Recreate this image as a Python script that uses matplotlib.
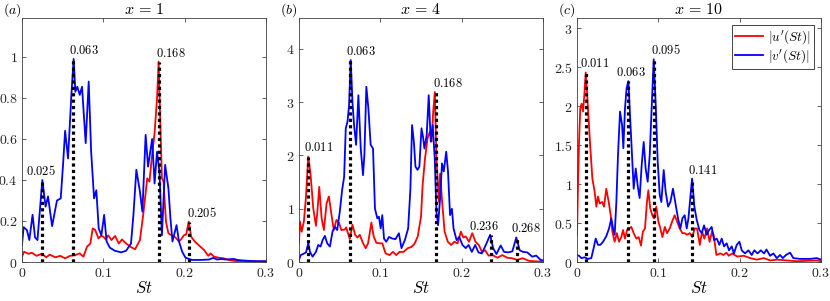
import numpy as np
import matplotlib
matplotlib.use('Agg')
import matplotlib.pyplot as plt
from matplotlib.ticker import FuncFormatter

plt.rcParams['mathtext.fontset'] = 'cm'
plt.rcParams['font.family'] = 'serif'
plt.rcParams['font.serif'] = ['DejaVu Serif']

# Spectra: columns are (St, amplitude)
a_u = np.array([
    [0, 0.026], [0.0025, 0.05], [0.008, 0.04], [0.012, 0.045], [0.018, 0.03], [0.024, 0.04],
    [0.030, 0.023], [0.034, 0.036], [0.041, 0.023], [0.047, 0.03], [0.053, 0.018], [0.059, 0.03],
    [0.065, 0.033], [0.071, 0.042], [0.0755, 0.026], [0.080, 0.075], [0.084, 0.09], [0.087, 0.164],
    [0.090, 0.156], [0.094, 0.115], [0.097, 0.127], [0.100, 0.124], [0.103, 0.11], [0.106, 0.13],
    [0.110, 0.107], [0.1145, 0.127], [0.119, 0.09], [0.123, 0.11], [0.127, 0.094], [0.133, 0.075],
    [0.139, 0.062], [0.145, 0.107], [0.149, 0.23], [0.154, 0.408], [0.1567, 0.392], [0.160, 0.522],
    [0.163, 0.628], [0.166, 0.798], [0.168, 0.977], [0.170, 0.685], [0.172, 0.41], [0.174, 0.392],
    [0.177, 0.197], [0.180, 0.14], [0.184, 0.13], [0.1887, 0.12], [0.193, 0.10], [0.196, 0.113],
    [0.199, 0.13], [0.2018, 0.134], [0.205, 0.197], [0.208, 0.123], [0.2124, 0.10], [0.217, 0.083],
    [0.224, 0.058], [0.229, 0.03], [0.232, 0.042], [0.236, 0.026], [0.242, 0.021], [0.248, 0.018],
    [0.254, 0.01], [0.262, 0.005], [0.27, 0.003], [0.3, 0.002]])
a_v = np.array([
    [0, 0.083], [0.002, 0.17], [0.006, 0.156], [0.009, 0.107], [0.013, 0.23], [0.016, 0.12],
    [0.019, 0.107], [0.025, 0.40], [0.029, 0.27], [0.032, 0.32], [0.037, 0.175], [0.043, 0.30],
    [0.0476, 0.31], [0.0504, 0.47], [0.053, 0.64], [0.0566, 0.505], [0.0607, 0.815], [0.0635, 0.99],
    [0.0656, 0.83], [0.068, 0.855], [0.071, 0.815], [0.0738, 0.855], [0.0783, 0.58], [0.082, 0.88],
    [0.085, 0.54], [0.0886, 0.31], [0.0914, 0.35], [0.0943, 0.164], [0.0976, 0.13], [0.101, 0.23],
    [0.104, 0.10], [0.108, 0.07], [0.114, 0.055], [0.122, 0.047], [0.128, 0.055], [0.134, 0.09],
    [0.137, 0.23], [0.1406, 0.45], [0.145, 0.343], [0.148, 0.245], [0.152, 0.62], [0.155, 0.465],
    [0.160, 0.60], [0.163, 0.383], [0.166, 0.538], [0.169, 0.44], [0.172, 0.13], [0.176, 0.474],
    [0.180, 0.36], [0.1825, 0.213], [0.185, 0.10], [0.190, 0.18], [0.193, 0.10], [0.197, 0.05],
    [0.201, 0.021], [0.209, 0.01], [0.22, 0.01], [0.23, 0.012], [0.235, 0.02], [0.24, 0.012],
    [0.245, 0.015], [0.25, 0.012], [0.26, 0.015], [0.265, 0.01], [0.27, 0.008], [0.28, 0.005],
    [0.29, 0.004], [0.3, 0.004]])

b_u = np.array([
    [0, 0.35], [0.0012, 0.76], [0.0033, 0.57], [0.006, 0.76], [0.0086, 1.23], [0.0114, 1.98],
    [0.0143, 1.63], [0.0175, 1.01], [0.0208, 0.68], [0.0224, 0.91], [0.0249, 1.41], [0.0278, 0.82],
    [0.0306, 0.60], [0.0339, 1.10], [0.0367, 1.23], [0.04, 0.88], [0.0428, 0.60], [0.046, 0.79],
    [0.0494, 0.73], [0.052, 0.60], [0.0563, 0.61], [0.058, 0.65], [0.0624, 0.43], [0.0657, 0.70],
    [0.069, 0.51], [0.0718, 0.46], [0.0747, 0.51], [0.0788, 0.35], [0.082, 0.26], [0.0849, 0.35],
    [0.089, 0.74], [0.0918, 0.48], [0.0951, 0.36], [0.0992, 0.35], [0.1024, 0.35], [0.1065, 0.16],
    [0.1114, 0.13], [0.1155, 0.19], [0.1196, 0.13], [0.1236, 0.19], [0.1285, 0.19], [0.1338, 0.26],
    [0.138, 0.28], [0.142, 0.34], [0.146, 0.48], [0.150, 0.85], [0.152, 1.45], [0.155, 1.95],
    [0.158, 2.32], [0.161, 2.45], [0.163, 2.26], [0.165, 2.82], [0.167, 3.19], [0.169, 1.94],
    [0.172, 1.13], [0.1735, 1.66], [0.176, 1.13], [0.179, 0.57], [0.183, 0.38], [0.187, 0.32],
    [0.191, 0.38], [0.195, 0.35], [0.199, 0.57], [0.202, 0.46], [0.205, 0.48], [0.209, 0.38],
    [0.213, 0.54], [0.217, 0.38], [0.221, 0.32], [0.225, 0.19], [0.229, 0.22], [0.233, 0.12],
    [0.238, 0.13], [0.244, 0.08], [0.250, 0.13], [0.256, 0.08], [0.262, 0.07], [0.268, 0.04],
    [0.275, 0.07], [0.283, 0.02], [0.295, 0.01], [0.3, 0.01]])
b_v = np.array([
    [0, 0.04], [0.002, 0.13], [0.005, 0.15], [0.0086, 0.18], [0.0114, 0.35], [0.0135, 0.19],
    [0.0167, 0.10], [0.0208, 0.19], [0.0237, 0.32], [0.0265, 0.29], [0.029, 0.41], [0.0318, 0.49],
    [0.0347, 0.35], [0.038, 0.29], [0.0412, 0.57], [0.0441, 0.66], [0.047, 0.60], [0.0502, 0.95],
    [0.053, 1.35], [0.0555, 1.60], [0.0575, 2.51], [0.0596, 2.63], [0.0616, 2.95], [0.0636, 3.79],
    [0.0657, 3.01], [0.0677, 2.57], [0.0702, 2.20], [0.073, 3.13], [0.0759, 2.13], [0.0787, 1.63],
    [0.0804, 2.01], [0.0828, 3.29], [0.0853, 2.88], [0.0881, 2.20], [0.091, 2.13], [0.0934, 1.0],
    [0.0963, 0.82], [0.0983, 0.85], [0.1004, 0.63], [0.1024, 0.88], [0.1045, 0.44], [0.1073, 0.38],
    [0.1106, 0.47], [0.1147, 0.44], [0.1187, 0.43], [0.1228, 0.54], [0.126, 0.26], [0.1301, 0.41],
    [0.1342, 0.63], [0.137, 1.38], [0.139, 2.57], [0.1412, 2.26], [0.1432, 1.79], [0.1457, 1.73],
    [0.148, 1.79], [0.1506, 2.51], [0.1525, 2.35], [0.1542, 2.13], [0.157, 2.38], [0.1595, 3.13],
    [0.162, 2.26], [0.1644, 2.57], [0.1669, 1.94], [0.169, 0.94], [0.171, 0.69], [0.1738, 1.26],
    [0.1758, 1.85], [0.178, 1.70], [0.181, 2.07], [0.1832, 1.70], [0.1857, 0.88], [0.188, 1.0],
    [0.190, 0.63], [0.1938, 0.41], [0.197, 0.47], [0.201, 0.32], [0.205, 0.26], [0.2085, 0.32],
    [0.2125, 0.19], [0.2166, 0.32], [0.2207, 0.18], [0.2248, 0.16], [0.2297, 0.32], [0.235, 0.51],
    [0.2387, 0.26], [0.2427, 0.15], [0.248, 0.31], [0.2521, 0.19], [0.2574, 0.18], [0.2623, 0.20],
    [0.2672, 0.46], [0.2713, 0.22], [0.2754, 0.19], [0.2807, 0.18], [0.2868, 0.10], [0.2917, 0.12],
    [0.297, 0.04], [0.3, 0.03]])

c_u = np.array([
    [0, 0.35], [0.0013, 1.03], [0.0025, 1.54], [0.004, 1.97], [0.0057, 2.03], [0.0074, 1.93],
    [0.009, 2.14], [0.0107, 2.43], [0.0123, 2.18], [0.014, 1.88], [0.0164, 1.46], [0.0189, 1.07],
    [0.0217, 0.90], [0.0238, 0.71], [0.0258, 0.84], [0.0279, 0.75], [0.031, 0.77], [0.0332, 0.71],
    [0.036, 0.94], [0.039, 0.77], [0.0414, 0.60], [0.0435, 0.39], [0.0463, 0.26], [0.049, 0.37],
    [0.0517, 0.26], [0.0545, 0.32], [0.0566, 0.41], [0.059, 0.30], [0.0615, 0.41], [0.064, 0.43],
    [0.0668, 0.45], [0.0697, 0.37], [0.073, 0.30], [0.0758, 0.32], [0.0787, 0.21], [0.081, 0.39],
    [0.0836, 0.43], [0.086, 0.77], [0.0877, 0.92], [0.090, 0.69], [0.0926, 0.60], [0.0947, 0.56],
    [0.0975, 0.71], [0.1, 0.52], [0.1025, 0.43], [0.105, 0.32], [0.108, 0.45], [0.1107, 0.37],
    [0.114, 0.43], [0.117, 0.52], [0.120, 0.60], [0.123, 0.52], [0.1263, 0.43], [0.1296, 0.37],
    [0.1324, 0.37], [0.1353, 0.35], [0.1386, 0.37], [0.1418, 0.32], [0.1447, 0.43], [0.1476, 0.43],
    [0.151, 0.22], [0.1538, 0.39], [0.1566, 0.30], [0.160, 0.43], [0.163, 0.26], [0.166, 0.39],
    [0.168, 0.35], [0.1714, 0.09], [0.1763, 0.11], [0.180, 0.09], [0.1837, 0.12], [0.1866, 0.08],
    [0.1907, 0.11], [0.197, 0.07], [0.205, 0.08], [0.213, 0.05], [0.221, 0.03], [0.2296, 0.05],
    [0.2378, 0.02], [0.246, 0.03], [0.258, 0.02], [0.27, 0.01], [0.295, 0.02], [0.3, 0.01]])
c_v = np.array([
    [0, 0.09], [0.0025, 0.08], [0.0053, 0.05], [0.0094, 0.06], [0.0135, 0.04], [0.0176, 0.05],
    [0.0205, 0.18], [0.023, 0.30], [0.0258, 0.22], [0.0287, 0.22], [0.032, 0.26], [0.036, 0.33],
    [0.0394, 0.43], [0.0422, 0.56], [0.0443, 0.43], [0.0463, 0.35], [0.0484, 0.77], [0.0504, 1.37],
    [0.0529, 1.93], [0.0554, 1.76], [0.057, 1.46], [0.059, 1.97], [0.061, 2.23], [0.0632, 2.32],
    [0.0652, 1.88], [0.0672, 1.46], [0.0697, 0.94], [0.0722, 1.20], [0.0746, 0.98], [0.077, 0.82],
    [0.0795, 1.24], [0.082, 1.54], [0.0844, 1.20], [0.0869, 1.03], [0.0894, 1.37], [0.0914, 1.88],
    [0.0943, 2.60], [0.0968, 2.01], [0.0992, 1.29], [0.1017, 0.86], [0.1037, 0.77], [0.1066, 1.18],
    [0.109, 0.90], [0.112, 0.71], [0.1148, 0.77], [0.118, 0.94], [0.1214, 0.73], [0.1242, 0.56],
    [0.1271, 0.43], [0.1296, 0.56], [0.1324, 0.60], [0.1349, 0.43], [0.137, 0.56], [0.1398, 0.88],
    [0.1415, 1.07], [0.1443, 0.71], [0.1472, 0.54], [0.1505, 0.41], [0.1534, 0.37], [0.1562, 0.47],
    [0.1595, 0.35], [0.1624, 0.41], [0.1656, 0.45], [0.1685, 0.28], [0.1718, 0.30], [0.175, 0.22],
    [0.1779, 0.30], [0.1808, 0.20], [0.184, 0.24], [0.1869, 0.15], [0.1902, 0.20], [0.193, 0.11],
    [0.1964, 0.22], [0.1997, 0.26], [0.2025, 0.15], [0.2066, 0.11], [0.2107, 0.15], [0.2148, 0.09],
    [0.218, 0.15], [0.222, 0.11], [0.226, 0.15], [0.230, 0.11], [0.233, 0.16], [0.2374, 0.08],
    [0.2415, 0.11], [0.2456, 0.05], [0.2497, 0.09], [0.253, 0.05], [0.257, 0.09], [0.262, 0.12],
    [0.266, 0.05], [0.274, 0.04], [0.2866, 0.04], [0.2948, 0.05], [0.3, 0.03]])

# Marked peaks: St and height of the dotted line
a_peak_st = [0.025, 0.063, 0.168, 0.205]
a_peak_h = [0.40, 0.99, 0.977, 0.197]
b_peak_st = [0.011, 0.063, 0.168, 0.236, 0.268]
b_peak_h = [1.98, 3.79, 3.19, 0.51, 0.46]
c_peak_st = [0.011, 0.063, 0.095, 0.141]
c_peak_h = [2.43, 2.32, 2.60, 1.07]

titles = [r'$x\,=\,1$', r'$x\,=\,4$', r'$x\,=\,10$']
tags = ['(a)', '(b)', '(c)']

panels = [
    dict(u=a_u, v=a_v, st=a_peak_st, h=a_peak_h, ymax=1.19, yticks=np.arange(0, 1.01, 0.2),
         dx=[-1, 11, 12, 13]),
    dict(u=b_u, v=b_v, st=b_peak_st, h=b_peak_h, ymax=4.58, yticks=np.arange(0, 4.01, 1),
         dx=[11, 11, 12, -7, 9]),
    dict(u=c_u, v=c_v, st=c_peak_st, h=c_peak_h, ymax=3.13, yticks=np.arange(0, 3.01, 0.5),
         dx=[9, 3, 12, 11]),
]
lefts = [22, 299, 577]

fig = plt.figure(figsize=(8.3, 3.01), dpi=100)
W, H = 830, 301
fmt = FuncFormatter(lambda v, p: f'${v:g}$')

for i, p in enumerate(panels):
    ax = fig.add_axes([lefts[i] / W, 39 / H, 244 / W, 244 / H])
    lu, = ax.plot(p['u'][:, 0], p['u'][:, 1], color='r', lw=1.3, label="$|u'(St)|$")
    lv, = ax.plot(p['v'][:, 0], p['v'][:, 1], color='b', lw=1.3, label="$|v'(St)|$")
    for s, h, d in zip(p['st'], p['h'], p['dx']):
        ax.plot([s, s], [0, h], color='k', lw=2.3, dashes=(1, 1), zorder=5)
        ax.annotate(f'${s:.3f}$', (s, h), xytext=(d * 0.72, 1.5), textcoords='offset points',
                    ha='center', va='bottom', fontsize=9)
    ax.set_xlim(0, 0.3)
    ax.set_ylim(0, p['ymax'])
    ax.set_xticks([0, 0.1, 0.2, 0.3])
    ax.set_yticks(p['yticks'])
    ax.xaxis.set_major_formatter(fmt)
    ax.yaxis.set_major_formatter(fmt)
    ax.tick_params(direction='in', top=True, right=True, length=3, width=0.5,
                   labelsize=10, colors='0.15', pad=3)
    for sp in ax.spines.values():
        sp.set_linewidth(0.6)
        sp.set_color('0.25')
    ax.set_xlabel('$St$', fontsize=12, labelpad=0)
    ax.set_title(titles[i], fontsize=11.5, pad=3)
    fig.text((lefts[i] - 19) / W, 1 - 10 / H, r'$\mathit{' + tags[i] + '}$',
             fontsize=10, va='center', ha='left')
    if i == 2:
        leg = ax.legend(handles=[lu, lv], loc='upper right', fontsize=9.5, fancybox=False,
                        edgecolor='0.15', framealpha=1, handlelength=2.1,
                        borderaxespad=0.5, borderpad=0.25, labelspacing=0.15, handletextpad=0.4)
        leg.get_frame().set_linewidth(0.6)

fig.savefig('out.png', dpi=100)
